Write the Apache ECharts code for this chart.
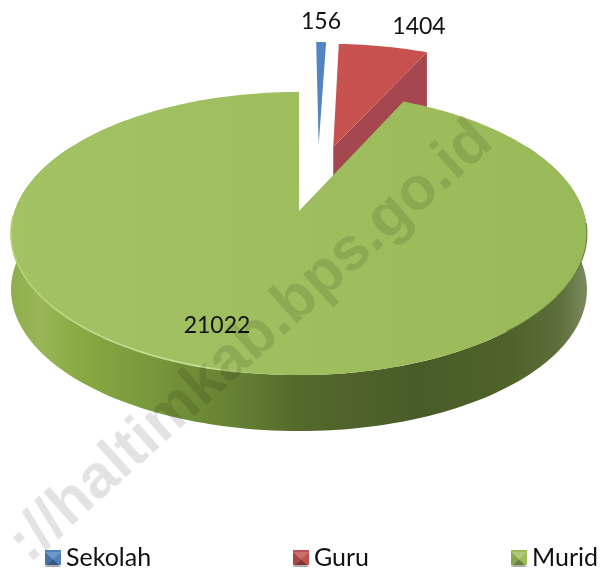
<!DOCTYPE html>
<html><head><meta charset="utf-8">
<style>html,body{margin:0;padding:0;background:#fff}#c{width:600px;height:571px}</style>
<script src="https://cdn.jsdelivr.net/npm/echarts@6/dist/echarts.min.js"></script>
</head><body><div id="c"></div>
<script>
const categories = ['Sekolah', 'Guru', 'Murid'];
const values = [156, 1404, 21022];
const valueLabels = ['156', '1404', '21022'];

// presentation only
const total = values.reduce((a, b) => a + b, 0);
const explode = [[0.075, 0.52], [0.13, 0.5], [0, 0]];
const labelAt = [[321, 22], [419, 27], [217, 326]];
const faceColors = [
  ['#5f93d2', '#4678b4'],
  ['#cc5552', '#c44f4c'],
  ['#a2c264', '#9aba59']
];
const wallColors = [null, '#a5474e', null];
const legendColors = ['#4f81bd', '#c0504d', '#9bbb59'];
const FONT = 'Lato';
const view = { x0: 299, y0: 211, rx: 284.3, ry: 138, p: 0.159, depth: 56 };

function project(u, v, down) {
  const w = 1 + view.p * v;
  return [view.x0 + view.rx * u / w, view.y0 - view.ry * v / w + (down || 0)];
}
function rimPoint(off, deg, down) {
  const a = deg * Math.PI / 180;
  return project(off[0] + Math.sin(a), off[1] + Math.cos(a), down);
}
function arc(off, a0, a1, down) {
  const n = Math.max(2, Math.ceil(Math.abs(a1 - a0) / 1.5));
  const pts = [];
  for (let i = 0; i <= n; i++) pts.push(rimPoint(off, a0 + (a1 - a0) * i / n, down));
  return pts;
}
const linearX = (stops) => ({ type: 'linear', x: 12, y: 0, x2: 588, y2: 0, global: true,
  colorStops: stops.map((c) => ({ offset: c[0], color: c[1] })) });

function makeRender(idx) {
  return function (params, api) {
    const before = values.slice(0, idx).reduce((a, b) => a + b, 0);
    const start = before / total * 360;
    const end = (before + api.value(0)) / total * 360;
    const off = explode[idx];
    const kids = [];
    const apex = project(off[0], off[1]);
    const apexLow = project(off[0], off[1], view.depth);

    if (idx === 2) {
      const a0 = Math.max(start, 60), a1 = Math.min(end, 300);
      const top = arc(off, a0, a1), low = arc(off, a0, a1, view.depth);
      kids.push({ type: 'polygon', shape: { points: top.concat(low.reverse()) },
        style: { fill: linearX([[0, '#8fae4c'], [0.05, '#98b657'], [0.12, '#88a943'], [0.26, '#76943a'], [0.4, '#637e32'], [0.5, '#54692c'], [0.7, '#485c28'], [0.86, '#4e6229'], [0.95, '#5d6f3a'], [1, '#7d8c60']]) } });
    }
    if (wallColors[idx]) {
      const r = rimPoint(off, end), rl = rimPoint(off, end, view.depth);
      kids.push({ type: 'polygon', shape: { points: [apex, r, rl, apexLow] }, style: { fill: wallColors[idx] } });
    }
    const face = [apex].concat(arc(off, start, end));
    kids.push({ type: 'polygon', shape: { points: face },
      style: { fill: linearX([[0, faceColors[idx][0]], [1, faceColors[idx][1]]]) } });
    if (idx === 2) {
      kids.push({ type: 'polyline', shape: { points: arc(off, 188, 268) },
        style: { fill: null, lineWidth: 1.8,
          stroke: linearX([[0, '#b4d06e'], [0.2, '#c3db90'], [0.34, '#c6dd96'], [0.42, 'rgba(190,215,130,0)']]) } });
      kids.push({ type: 'polyline', shape: { points: arc(off, 95, 140) },
        style: { fill: null, lineWidth: 1.2, stroke: 'rgba(70,90,35,0.55)' } });
    }
    kids.push({ type: 'text', z2: 50, style: { text: valueLabels[idx], x: labelAt[idx][0], y: labelAt[idx][1],
      align: 'center', verticalAlign: 'middle', fill: '#111', font: '23px ' + FONT } });
    return { type: 'group', children: kids };
  };
}

const drawOrder = [2, 3, 4];
const MW = 16, MH = 15;
const legendLeft = [40, 288, 506];
const legendTop = 540;
const bevels = [];
legendLeft.forEach((l) => {
  const x = l + 5, y = 552;
  const c = [x + MW / 2, y + MH / 2];
  bevels.push({ type: 'polygon', z: 60, silent: true, shape: { points: [[x, y], [x + MW, y], c] }, style: { fill: 'rgba(255,255,255,0.18)' } });
  bevels.push({ type: 'polygon', z: 60, silent: true, shape: { points: [[x, y + MH], [x + MW, y + MH], c] }, style: { fill: 'rgba(0,0,0,0.32)' } });
  bevels.push({ type: 'polygon', z: 60, silent: true, shape: { points: [[x, y], [x, y + MH], c] }, style: { fill: 'rgba(0,0,0,0.12)' } });
});

const chart = echarts.init(document.getElementById('c'), null, { renderer: 'canvas' });
chart.setOption({
  animation: false,
  backgroundColor: '#fff',
  legend: categories.map((name, i) => ({
    left: legendLeft[i], top: legendTop, itemWidth: MW, itemHeight: MH, icon: 'rect',
    data: [name],
    textStyle: { fontFamily: FONT, fontSize: 25, color: '#111' }
  })),
  series: categories.map((name, i) => ({
    type: 'custom', name, coordinateSystem: 'none', silent: true, z: drawOrder[i],
    itemStyle: { color: legendColors[i] },
    data: [[values[i]]],
    renderItem: makeRender(i)
  })),
  graphic: [{
    type: 'text', z: 100, silent: true,
    x: 251, y: 342, rotation: 42 * Math.PI / 180,
    style: { text: '://haltimkab.bps.go.id', align: 'center', verticalAlign: 'middle',
      font: 'bold 61px "Liberation Sans"', fill: 'rgba(0,0,0,0.11)' }
  }].concat(bevels)
});
</script></body></html>
